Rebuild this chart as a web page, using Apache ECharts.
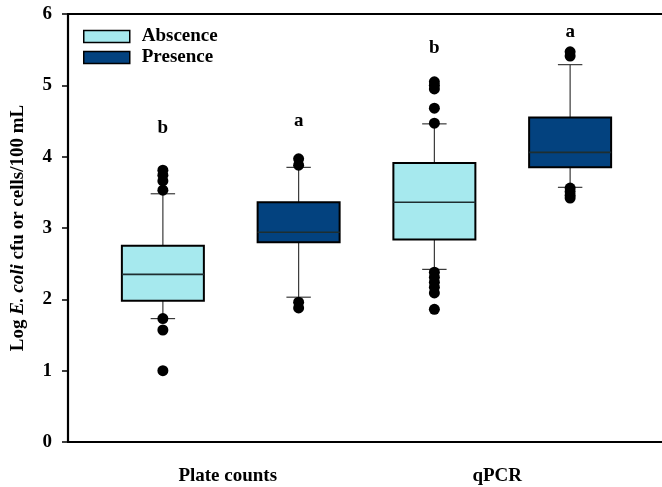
<!DOCTYPE html>
<html>
<head>
<meta charset="utf-8">
<script src="https://cdn.jsdelivr.net/npm/echarts@6/dist/echarts.min.js"></script>
<style>html,body{margin:0;padding:0;background:#fff}#c{width:662px;height:487px}</style>
</head>
<body>
<div id="c"></div>
<script>
const categories = ['Plate counts', 'qPCR'];
const groups = ['Abscence', 'Presence'];
const boxSlots = ['Plate counts Abscence', 'Plate counts Presence', 'qPCR Abscence', 'qPCR Presence'];
// [lower whisker, Q1, median, Q3, upper whisker]
const absenceBox = [[1.73, 1.98, 2.35, 2.75, 3.48], [2.42, 2.84, 3.36, 3.91, 4.46]];
const presenceBox = [[2.03, 2.80, 2.94, 3.36, 3.85], [3.57, 3.85, 4.06, 4.55, 5.29]];
const absenceOutliers = [[3.53, 3.66, 3.74, 3.81, 1.73, 1.57, 1.00],
                         [4.47, 4.68, 4.95, 5.00, 5.05, 2.38, 2.31, 2.24, 2.17, 2.09, 1.86]];
const presenceOutliers = [[3.88, 3.97, 1.96, 1.88],
                          [5.41, 5.47, 3.56, 3.51, 3.46, 3.42]];
const letters = ['b', 'a', 'b', 'a'];
const letterY = [4.40, 4.50, 5.52, 5.74];
const yTicks = [0, 1, 2, 3, 4, 5, 6];

const FONT = '"Liberation Serif", "Times New Roman", serif';
const FS = 19;
const COLORS = ['#a6e9ee', '#03427f'];
const BOX_RATIO = 0.604, CAP_RATIO = 0.18;

const chart = echarts.init(document.getElementById('c'), null, {renderer: 'canvas'});

const absSlot = [0, 2], preSlot = [1, 3];
function boxData(box, slots) { return box.map((b, i) => [slots[i]].concat(b)); }
function outData(outs, slots) {
  const r = [];
  outs.forEach((arr, i) => arr.forEach(v => r.push([slots[i], v])));
  return r;
}

function renderBox(params, api) {
  const x = api.value(0);
  const lo = api.coord([x, api.value(1)]);
  const q1 = api.coord([x, api.value(2)]);
  const md = api.coord([x, api.value(3)]);
  const q3 = api.coord([x, api.value(4)]);
  const hi = api.coord([x, api.value(5)]);
  const band = api.size([1, 0])[0];
  const bw = band * BOX_RATIO, cw = band * CAP_RATIO;
  const cx = lo[0];
  const wStyle = {stroke: '#3a3a3a', lineWidth: 1.2};
  return {
    type: 'group',
    children: [
      {type: 'line', shape: {x1: cx, y1: hi[1], x2: cx, y2: q3[1]}, style: wStyle},
      {type: 'line', shape: {x1: cx, y1: q1[1], x2: cx, y2: lo[1]}, style: wStyle},
      {type: 'line', shape: {x1: cx - cw / 2, y1: hi[1], x2: cx + cw / 2, y2: hi[1]}, style: wStyle},
      {type: 'line', shape: {x1: cx - cw / 2, y1: lo[1], x2: cx + cw / 2, y2: lo[1]}, style: wStyle},
      {type: 'rect', shape: {x: cx - bw / 2, y: q3[1], width: bw, height: q1[1] - q3[1]},
       style: {fill: api.visual('color'), stroke: '#000', lineWidth: 2}},
      {type: 'line', shape: {x1: cx - bw / 2, y1: md[1], x2: cx + bw / 2, y2: md[1]},
       style: {stroke: '#1e2e30', lineWidth: 1.6}}
    ]
  };
}

const option = {
  backgroundColor: '#fff',
  animation: false,
  legend: {
    data: groups.map((g, i) => ({name: g, itemStyle: {color: COLORS[i], borderColor: '#000', borderWidth: 1.5}})),
    orient: 'vertical',
    left: 83, top: 27,
    itemWidth: 46, itemHeight: 12, itemGap: 2,
    icon: 'rect',
    padding: 0,
    textStyle: {fontFamily: FONT, fontWeight: 'bold', fontSize: FS, color: '#000', padding: [0, 0, 0, 7]}
  },
  grid: [
    {left: 68, right: 0, top: 14, bottom: 45, outerBoundsMode: 'none'},
    {left: 95, right: 24, top: 14, bottom: 45, outerBoundsMode: 'none'},
    {left: 93, right: 30, top: 14, bottom: 45, outerBoundsMode: 'none'}
  ],
  xAxis: [
    {type: 'value', gridIndex: 0, min: 0, max: 1, position: 'bottom',
     axisLine: {show: true, lineStyle: {color: '#000', width: 2.2}},
     axisTick: {show: false}, axisLabel: {show: false}, splitLine: {show: false}},
    {type: 'value', gridIndex: 0, min: 0, max: 1, position: 'top',
     axisLine: {show: true, lineStyle: {color: '#000', width: 2.2}},
     axisTick: {show: false}, axisLabel: {show: false}, splitLine: {show: false}},
    {type: 'category', gridIndex: 1, data: boxSlots, boundaryGap: true,
     axisLine: {show: false}, axisTick: {show: false}, axisLabel: {show: false}, splitLine: {show: false}},
    {type: 'category', gridIndex: 2, data: categories, boundaryGap: true,
     axisLine: {show: false}, axisTick: {show: false}, splitLine: {show: false},
     axisLabel: {show: true, margin: 25, fontFamily: FONT, fontWeight: 'bold', fontSize: FS, color: '#000'}}
  ],
  yAxis: [
    {type: 'value', gridIndex: 0, min: 0, max: 6, interval: 1,
     name: '{n|Log }{i|E. coli}{n| cfu or cells/100 mL}',
     nameLocation: 'middle', nameGap: 40, nameRotate: 90,
     nameTextStyle: {
       rich: {
         n: {fontFamily: FONT, fontWeight: 'bold', fontSize: FS, color: '#000'},
         i: {fontFamily: FONT, fontWeight: 'bold', fontStyle: 'italic', fontSize: FS, color: '#000'}
       }
     },
     axisLine: {show: true, lineStyle: {color: '#000', width: 2.2}},
     axisTick: {show: true, inside: false, length: 6, lineStyle: {color: '#000', width: 1.5}},
     axisLabel: {margin: 16, fontFamily: FONT, fontWeight: 'bold', fontSize: FS, color: '#000',
                 formatter: v => yTicks.includes(v) ? String(v) : ''},
     splitLine: {show: false}},
    {type: 'value', gridIndex: 1, min: 0, max: 6, show: false},
    {type: 'value', gridIndex: 2, min: 0, max: 6, show: false}
  ],
  series: [
    {name: groups[0], type: 'custom', xAxisIndex: 2, yAxisIndex: 1,
     renderItem: renderBox, encode: {x: 0, y: [1, 2, 3, 4, 5]},
     itemStyle: {color: COLORS[0]},
     data: boxData(absenceBox, absSlot)},
    {name: groups[1], type: 'custom', xAxisIndex: 2, yAxisIndex: 1,
     renderItem: renderBox, encode: {x: 0, y: [1, 2, 3, 4, 5]},
     itemStyle: {color: COLORS[1]},
     data: boxData(presenceBox, preSlot)},
    {name: 'Abscence outliers', type: 'scatter', xAxisIndex: 2, yAxisIndex: 1, z: 5,
     symbolSize: 11, itemStyle: {color: '#000', opacity: 1}, data: outData(absenceOutliers, absSlot)},
    {name: 'Presence outliers', type: 'scatter', xAxisIndex: 2, yAxisIndex: 1, z: 5,
     symbolSize: 11, itemStyle: {color: '#000', opacity: 1}, data: outData(presenceOutliers, preSlot)},
    {name: 'letters', type: 'scatter', xAxisIndex: 2, yAxisIndex: 1,
     symbolSize: 1, itemStyle: {color: 'rgba(0,0,0,0)', opacity: 1},
     label: {show: true, position: 'inside', color: '#000', fontFamily: FONT, fontWeight: 'bold', fontSize: FS,
             formatter: p => letters[p.dataIndex]},
     data: letterY.map((v, i) => [i, v])}
  ]
};
chart.setOption(option);
</script>
</body>
</html>
